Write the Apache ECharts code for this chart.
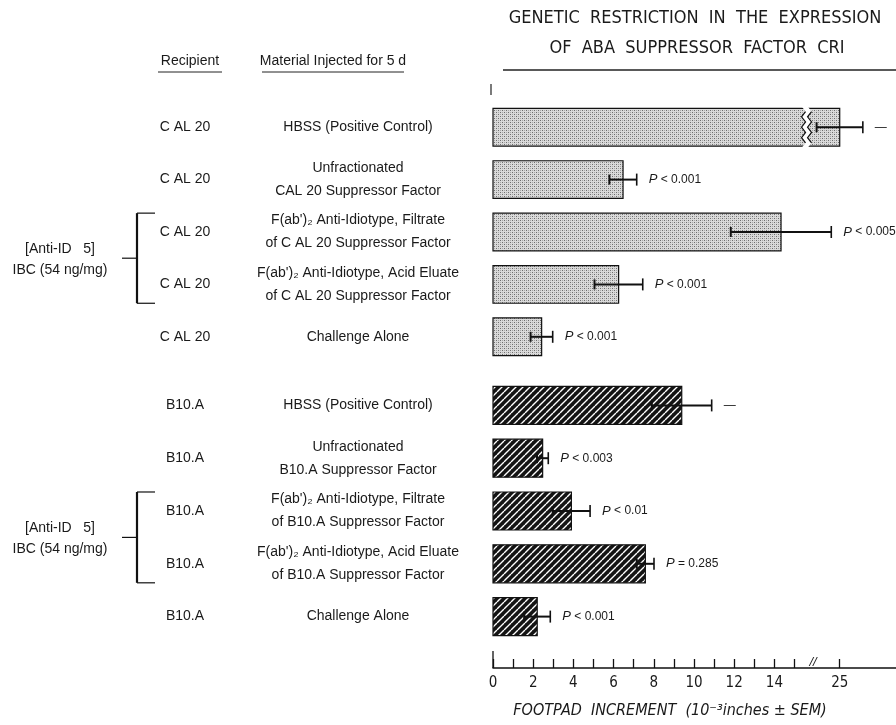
<!DOCTYPE html>
<html><head><meta charset="utf-8">
<script src="https://cdn.jsdelivr.net/npm/echarts@6/dist/echarts.min.js"></script>
<style>html,body{margin:0;padding:0;background:#fff}#c{width:896px;height:725px}</style>
</head><body><div id="c"></div>
<script>
// ---------- data ----------
const calRecipients = ['C AL 20', 'C AL 20', 'C AL 20', 'C AL 20', 'C AL 20'];
const calMaterials = [
  'HBSS (Positive Control)',
  'Unfractionated\nCAL 20 Suppressor Factor',
  "F(ab')₂ Anti-Idiotype, Filtrate\nof C AL 20 Suppressor Factor",
  "F(ab')₂ Anti-Idiotype, Acid Eluate\nof C AL 20 Suppressor Factor",
  'Challenge Alone'
];
const calMeans = [25, 6.47, 14.33, 6.25, 2.42];
const calSEM = [1.15, 0.68, 2.5, 1.2, 0.55];
const calP = ['—', 'P < 0.001', 'P < 0.005', 'P < 0.001', 'P < 0.001'];

const b10Recipients = ['B10.A', 'B10.A', 'B10.A', 'B10.A', 'B10.A'];
const b10Materials = [
  'HBSS (Positive Control)',
  'Unfractionated\nB10.A Suppressor Factor',
  "F(ab')₂ Anti-Idiotype, Filtrate\nof B10.A Suppressor Factor",
  "F(ab')₂ Anti-Idiotype, Acid Eluate\nof B10.A Suppressor Factor",
  'Challenge Alone'
];
const b10Means = [9.39, 2.47, 3.9, 7.58, 2.2];
const b10SEM = [1.49, 0.28, 0.93, 0.43, 0.65];
const b10P = ['—', 'P < 0.003', 'P < 0.01', 'P = 0.285', 'P < 0.001'];

const bracketRows = [2, 3];
const bracketText = '[Anti-ID   5]\nIBC (54 ng/mg)';

const tickValues = [0, 1, 2, 3, 4, 5, 6, 7, 8, 9, 10, 11, 12, 13, 14, 15, 25];
const labelValues = [0, 2, 4, 6, 8, 10, 12, 14, 25];

// ---------- broken axis: values above the break are shifted ----------
const BREAK_SHIFT = 7.75;
const toAxis = v => (v > 20 ? v - BREAK_SHIFT : v);
const fromAxis = v => (v > 16 ? Math.round(v + BREAK_SHIFT) : Math.round(v));

// ---------- fills ----------
function mkStipple() {
  const c = document.createElement('canvas'); c.width = 4; c.height = 4;
  const g = c.getContext('2d');
  g.fillStyle = '#dadada'; g.fillRect(0, 0, 4, 4);
  g.fillStyle = '#6e6e6e'; g.fillRect(0, 0, 1, 1); g.fillRect(2, 2, 1, 1);
  g.fillStyle = '#a8a8a8'; g.fillRect(2, 0, 1, 1); g.fillRect(0, 2, 1, 1);
  return c;
}
function mkHatch() {
  const s = 7;
  const c = document.createElement('canvas'); c.width = s; c.height = s;
  const g = c.getContext('2d');
  g.fillStyle = '#141414'; g.fillRect(0, 0, s, s);
  g.strokeStyle = '#ffffff'; g.lineWidth = 1.4;
  g.beginPath();
  [-s, 0, s].forEach(o => { g.moveTo(o, s); g.lineTo(o + s, 0); });
  g.stroke();
  return c;
}
const stipple = { image: mkStipple(), repeat: 'repeat' };
const hatch = { image: mkHatch(), repeat: 'repeat' };

const TXT = '#1a1a1a';
const LEFT_FONT = 'Liberation Sans, Arial, sans-serif';
const COND_FONT = 'Liberation Sans Narrow, DejaVu Sans Condensed, sans-serif';

function makeRender(fill, recips, mats, pLabels) {
  return function (params, api) {
    const i = params.dataIndex;
    const mean = api.value(1), sem = api.value(2);
    const base = api.coord([0, i]);
    const y = base[1], x0 = base[0];
    const h = api.size([0, 1])[1] * 0.72;
    const xEnd = api.coord([toAxis(mean), i])[0];
    const kids = [];
    kids.push({ type: 'rect', shape: { x: x0, y: y - h / 2, width: xEnd - x0, height: h },
      style: { fill: fill, stroke: '#111', lineWidth: 1.2 } });
    if (mean > 20) {
      const xl = api.coord([15.45, i])[0], xr = xl + 6;
      const n = 8, top = y - h / 2 - 2, bot = y + h / 2 + 2;
      const L = [], R = [];
      for (let k = 0; k <= n; k++) {
        const yy = top + (bot - top) * k / n;
        const d = (k % 2 ? 2 : -2);
        L.push([xl + d, yy]); R.push([xr + d, yy]);
      }
      kids.push({ type: 'polygon', shape: { points: L.concat(R.slice().reverse()) }, style: { fill: '#fff' } });
      kids.push({ type: 'polyline', shape: { points: L.slice(1, n) }, style: { stroke: '#111', lineWidth: 1.2, fill: null } });
      kids.push({ type: 'polyline', shape: { points: R.slice(1, n) }, style: { stroke: '#111', lineWidth: 1.2, fill: null } });
    }
    const x1 = api.coord([toAxis(mean - sem), i])[0];
    const x2 = api.coord([toAxis(mean + sem), i])[0];
    kids.push({ type: 'line', shape: { x1: x1, y1: y, x2: x2, y2: y }, style: { stroke: '#111', lineWidth: 2 } });
    kids.push({ type: 'line', shape: { x1: x1, y1: y - 5, x2: x1, y2: y + 5 }, style: { stroke: '#111', lineWidth: 2 } });
    kids.push({ type: 'line', shape: { x1: x2, y1: y - 6, x2: x2, y2: y + 6 }, style: { stroke: '#111', lineWidth: 1.6 } });
    const p = pLabels[i];
    const ptxt = p.charAt(0) === 'P' ? '{i|P}' + p.slice(1) : p;
    kids.push({ type: 'text', x: x2 + 12, y: y,
      style: { text: ptxt, align: 'left', verticalAlign: 'middle', textAlign: 'left', textVerticalAlign: 'middle',
        font: '12px ' + LEFT_FONT, fill: TXT,
        rich: { i: { fontStyle: 'italic', fontSize: 13, fontFamily: LEFT_FONT, fill: TXT } } } });
    // left text columns
    kids.push({ type: 'text', x: 185, y: y,
      style: { text: recips[i], align: 'center', verticalAlign: 'middle', textAlign: 'center', textVerticalAlign: 'middle',
        font: '14px ' + LEFT_FONT, fill: TXT } });
    kids.push({ type: 'text', x: 358, y: y,
      style: { text: mats[i], align: 'center', verticalAlign: 'middle', textAlign: 'center', textVerticalAlign: 'middle',
        font: '14px ' + LEFT_FONT, lineHeight: 23, fill: TXT } });
    // bracket
    if (i === bracketRows[0]) {
      const top = y - h / 2;
      const bot = api.coord([0, bracketRows[1]])[1] + h / 2;
      const mid = (top + bot) / 2;
      const bx = 137;
      kids.push({ type: 'line', shape: { x1: bx, y1: top, x2: bx, y2: bot }, style: { stroke: '#111', lineWidth: 2.2 } });
      kids.push({ type: 'line', shape: { x1: bx, y1: top, x2: bx + 18, y2: top }, style: { stroke: '#111', lineWidth: 1.2 } });
      kids.push({ type: 'line', shape: { x1: bx, y1: bot, x2: bx + 18, y2: bot }, style: { stroke: '#111', lineWidth: 1.2 } });
      kids.push({ type: 'line', shape: { x1: bx - 15, y1: mid, x2: bx, y2: mid }, style: { stroke: '#111', lineWidth: 1.2 } });
      kids.push({ type: 'text', x: 60, y: mid + 1,
        style: { text: bracketText, align: 'center', verticalAlign: 'middle', textAlign: 'center', textVerticalAlign: 'middle',
          font: '14px ' + LEFT_FONT, lineHeight: 21, fill: TXT } });
    }
    return { type: 'group', children: kids };
  };
}

function buildData(means, sems) {
  return means.map((m, i) => [toAxis(m), m, sems[i], i]);
}

const xCommon = {
  type: 'value', min: 0, max: 20.05,
  splitLine: { show: false }
};

const option = {
  animation: false,
  backgroundColor: '#fff',
  grid: [
    { left: 493, right: 0, top: 101, height: 262 },
    { left: 493, right: 0, top: 379, height: 264 }
  ],
  xAxis: [
    Object.assign({ gridIndex: 0, show: false }, xCommon),
    Object.assign({ gridIndex: 1, offset: 25,
      axisLine: { show: true, lineStyle: { color: '#111', width: 1.5 } },
      axisTick: { show: true, inside: true, length: 9, lineStyle: { color: '#111', width: 1.3 },
        customValues: tickValues.map(toAxis) },
      axisLabel: { show: true, customValues: labelValues.map(toAxis), formatter: v => String(fromAxis(v)),
        color: TXT, fontSize: 15, margin: 8, fontFamily: COND_FONT }
    }, xCommon)
  ],
  yAxis: [
    { gridIndex: 0, type: 'category', inverse: true, data: calRecipients.map((r, i) => i), show: false },
    { gridIndex: 1, type: 'category', inverse: true, data: b10Recipients.map((r, i) => i), show: false }
  ],
  series: [
    { type: 'custom', xAxisIndex: 0, yAxisIndex: 0, clip: false,
      encode: { x: 0, y: 3 }, data: buildData(calMeans, calSEM),
      renderItem: makeRender(stipple, calRecipients, calMaterials, calP) },
    { type: 'custom', xAxisIndex: 1, yAxisIndex: 1, clip: false,
      encode: { x: 0, y: 3 }, data: buildData(b10Means, b10SEM),
      renderItem: makeRender(hatch, b10Recipients, b10Materials, b10P) }
  ],
  graphic: [
    { type: 'text', x: 695, y: 18, style: { text: 'GENETIC  RESTRICTION  IN  THE  EXPRESSION', align: 'center', verticalAlign: 'middle',
        textAlign: 'center', textVerticalAlign: 'middle', font: '18px ' + COND_FONT, fill: TXT } },
    { type: 'text', x: 697, y: 48, style: { text: 'OF  ABA  SUPPRESSOR  FACTOR  CRI', align: 'center', verticalAlign: 'middle',
        textAlign: 'center', textVerticalAlign: 'middle', font: '18px ' + COND_FONT, fill: TXT } },
    { type: 'line', shape: { x1: 503, y1: 70, x2: 896, y2: 70 }, style: { stroke: '#222', lineWidth: 1.3 } },
    { type: 'line', shape: { x1: 491, y1: 84, x2: 491, y2: 95 }, style: { stroke: '#222', lineWidth: 1.2 } },
    { type: 'text', x: 190, y: 61, style: { text: 'Recipient', align: 'center', verticalAlign: 'middle',
        textAlign: 'center', textVerticalAlign: 'middle', font: '14px ' + LEFT_FONT, fill: TXT } },
    { type: 'line', shape: { x1: 158, y1: 72, x2: 222, y2: 72 }, style: { stroke: '#222', lineWidth: 1 } },
    { type: 'text', x: 333, y: 61, style: { text: 'Material Injected for 5 d', align: 'center', verticalAlign: 'middle',
        textAlign: 'center', textVerticalAlign: 'middle', font: '14px ' + LEFT_FONT, fill: TXT } },
    { type: 'line', shape: { x1: 262, y1: 72, x2: 404, y2: 72 }, style: { stroke: '#222', lineWidth: 1 } },
    { type: 'line', shape: { x1: 493, y1: 651, x2: 493, y2: 668 }, style: { stroke: '#111', lineWidth: 1.3 } },
    { type: 'text', x: 813, y: 662, style: { text: '//', align: 'center', verticalAlign: 'middle',
        textAlign: 'center', textVerticalAlign: 'middle', font: 'italic 13px ' + LEFT_FONT, fill: TXT } },
    { type: 'text', x: 670, y: 711, style: { text: 'FOOTPAD  INCREMENT  (10⁻³inches ± SEM)', align: 'center', verticalAlign: 'middle',
        textAlign: 'center', textVerticalAlign: 'middle', font: 'italic 16px ' + COND_FONT, fill: TXT } }
  ]
};

const chart = echarts.init(document.getElementById('c'), null, { renderer: 'canvas' });
chart.setOption(option);
</script>
</body></html>
